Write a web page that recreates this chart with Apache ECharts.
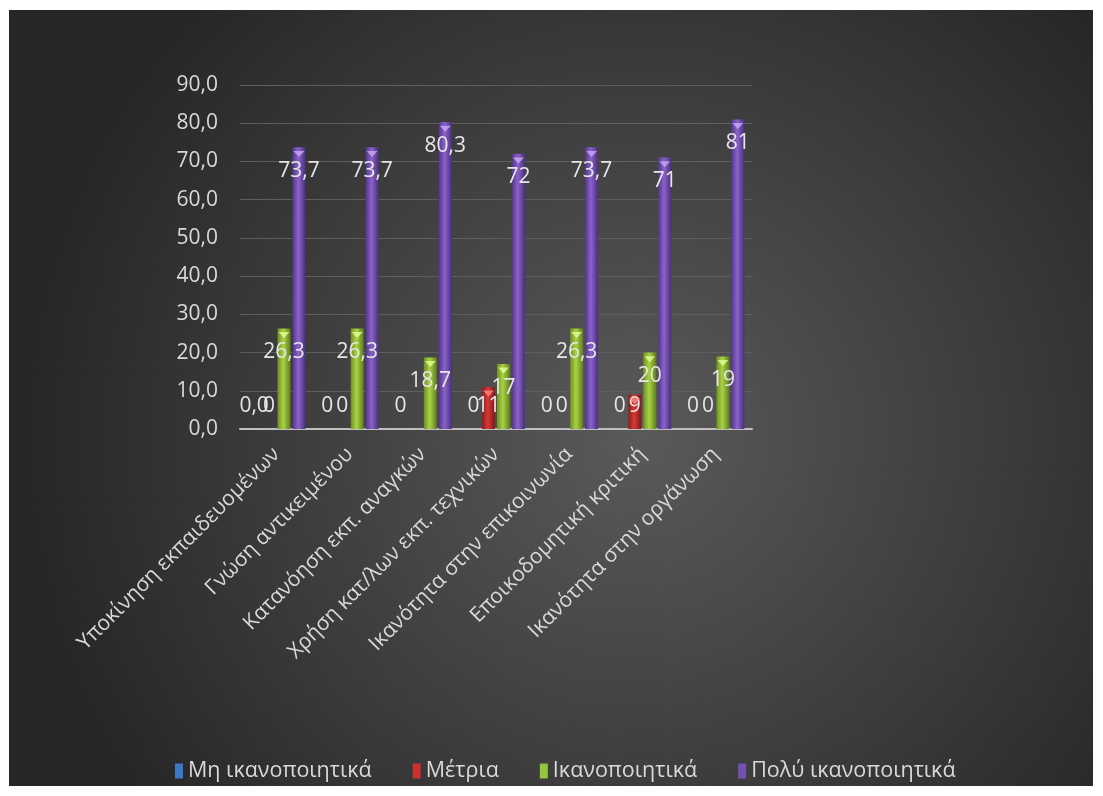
<!DOCTYPE html>
<html lang="el">
<head>
    <meta charset="UTF-8">
    <title>Chart</title>
    <script src="https://cdn.jsdelivr.net/npm/echarts@6/dist/echarts.min.js"></script>
    <style>
        body { margin: 0; background: #ffffff; }
        #main { position: absolute; left: 9px; top: 10px; width: 1084px; height: 776px; }
    </style>
</head>
<body>
<div id="main"></div>
<script>
    // categories (x axis)
    var categories = ['Υποκίνηση εκπαιδευομένων', 'Γνώση αντικειμένου', 'Κατανόηση εκπ. αναγκών',
        'Χρήση κατ/λων εκπ. τεχνικών', 'Ικανότητα στην επικοινωνία', 'Εποικοδομητική κριτική', 'Ικανότητα στην οργάνωση'];
    var seriesNames = ['Μη ικανοποιητικά', 'Μέτρια', 'Ικανοποιητικά', 'Πολύ ικανοποιητικά'];

    var mhIkan = [0, 0, 0, 0, 0, 0, 0];
    var mhIkanText = ['0,0', '0', '0', '0', '0', '0', '0'];
    var metria = [0, 0, null, 11, 0, 9, 0];
    var ikan = [26.3, 26.3, 18.7, 17, 26.3, 20, 19];
    var polyIkan = [73.7, 73.7, 80.3, 72, 73.7, 71, 81];

    var yTicks = ['0,0', '10,0', '20,0', '30,0', '40,0', '50,0', '60,0', '70,0', '80,0', '90,0'];

    // gradients for the "cylinder" look
    function grad(c1, c2, c3) {
        return new echarts.graphic.LinearGradient(0, 0, 1, 0, [
            { offset: 0, color: c1 }, { offset: 0.45, color: c2 }, { offset: 1, color: c3 }
        ]);
    }
    var colors = [
        grad('#24559a', '#4a8ee0', '#1f4a88'),
        grad('#8e1c1c', '#d53a37', '#7e1818'),
        grad('#6f8f24', '#a9d345', '#5f7c1e'),
        grad('#54358a', '#8a63c9', '#4a2f7c')
    ];
    var capColors = ['#8fc0ff', '#ff8a86', '#e4ff9a', '#c8aef5'];
    var legendColors = ['#3b78c8', '#c8312f', '#95c33a', '#7450b0'];

    function fmt(v) {
        return String(v).replace('.', ',');
    }

    function buildData(values, texts) {
        return values.map(function (v, i) {
            if (v === null) return null;
            var lab = { formatter: texts ? texts[i] : fmt(v) };
            if (v < 13) {
                // short bars: label sits at a fixed height above the axis
                lab.position = 'insideBottom';
                lab.distance = 12;
            }
            return { value: v, label: lab };
        });
    }

    var allValues = [mhIkan, metria, ikan, polyIkan];
    var allData = [buildData(mhIkan, mhIkanText), buildData(metria), buildData(ikan), buildData(polyIkan)];

    var series = [];
    for (var s = 0; s < 4; s++) {
        series.push({
            name: seriesNames[s],
            type: 'bar',
            barWidth: 13,
            barGap: '15%',
            itemStyle: { color: colors[s] },
            label: {
                show: true,
                position: 'insideTop',
                distance: 13,
                color: '#e6e6e6',
                fontSize: 21,
                fontFamily: 'Open Sans'
            },
            z: 2,
            data: allData[s]
        });
    }
    // small triangular caps on top of each bar
    for (var c = 0; c < 4; c++) {
        series.push({
            name: seriesNames[c] + ' cap',
            type: 'pictorialBar',
            barWidth: 13,
            barGap: '15%',
            symbol: 'triangle',
            symbolRotate: 180,
            symbolSize: [11, 6],
            symbolPosition: 'end',
            symbolOffset: [0, '60%'],
            itemStyle: { color: capColors[c], opacity: 0.8 },
            silent: true,
            z: 3,
            data: allValues[c].map(function (v) { return v ? v : null; })
        });
    }

    var myChart = echarts.init(document.getElementById('main'));
    myChart.setOption({
        backgroundColor: new echarts.graphic.RadialGradient(0.58, 0.55, 0.8, [
            { offset: 0, color: '#5a5a5a' },
            { offset: 1, color: '#262626' }
        ]),
        color: legendColors,
        textStyle: { fontFamily: 'Open Sans' },
        grid: { left: 231, right: 341, top: 75, bottom: 357, containLabel: false },
        legend: {
            left: 161,
            top: 745,
            itemWidth: 8,
            itemHeight: 15,
            itemGap: 41,
            icon: 'rect',
            textStyle: { color: '#d9d9d9', fontSize: 21.5, fontFamily: 'Open Sans' },
            data: seriesNames.map(function (n, i) {
                return { name: n, itemStyle: { color: legendColors[i] } };
            })
        },
        xAxis: {
            type: 'category',
            data: categories,
            axisTick: { show: false },
            axisLine: { lineStyle: { color: '#bfbfbf', width: 2 } },
            axisLabel: {
                rotate: 45,
                interval: 0,
                margin: 22,
                color: '#d9d9d9',
                fontSize: 21,
                fontFamily: 'Open Sans'
            }
        },
        yAxis: {
            type: 'value',
            min: 0,
            max: 90,
            interval: 10,
            axisLine: { show: false },
            axisTick: { show: false },
            splitLine: { lineStyle: { color: '#5e5e5e', width: 1 } },
            axisLabel: {
                margin: 22,
                color: '#d9d9d9',
                fontSize: 21,
                fontFamily: 'Open Sans',
                formatter: function (v) { return yTicks[Math.round(v / 10)]; }
            }
        },
        series: series
    });
</script>
</body>
</html>
